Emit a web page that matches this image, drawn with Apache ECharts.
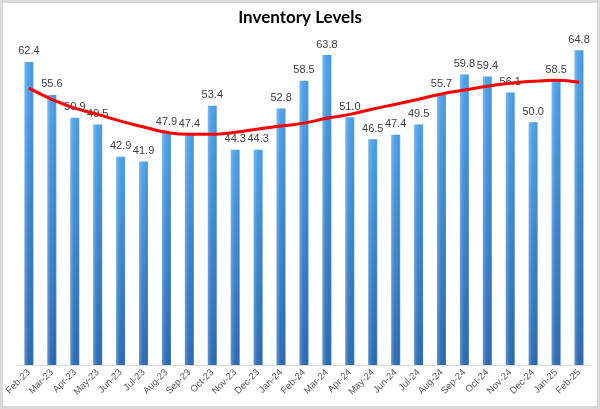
<!DOCTYPE html>
<html><head><meta charset="utf-8">
<script src="https://cdn.jsdelivr.net/npm/echarts@6/dist/echarts.min.js"></script>
<style>
html,body{margin:0;padding:0;background:#fff;}
#frame{position:absolute;left:0;top:0;width:594px;height:403px;border:3px solid #d9d9d9;background:#fff;}
#c{position:absolute;left:-3px;top:-3px;width:600px;height:409px;}
</style></head>
<body><div id="frame"><div id="c"></div></div>
<script>
const categories = ["Feb-23","Mar-23","Apr-23","May-23","Jun-23","Jul-23","Aug-23","Sep-23","Oct-23","Nov-23","Dec-23","Jan-24","Feb-24","Mar-24","Apr-24","May-24","Jun-24","Jul-24","Aug-24","Sep-24","Oct-24","Nov-24","Dec-24","Jan-25","Feb-25"];
const values = [62.4,55.6,50.9,49.5,42.9,41.9,47.9,47.4,53.4,44.3,44.3,52.8,58.5,63.8,51.0,46.5,47.4,49.5,55.7,59.8,59.4,56.1,50.0,58.5,64.8];
const trend = [57.0,54.7,52.9,51.6,50.2,49.0,47.9,47.5,47.5,47.9,48.6,49.2,49.8,50.8,51.6,52.7,53.7,54.7,55.8,56.6,57.4,58.0,58.4,58.6,58.2];

const chart = echarts.init(document.getElementById('c'), null, {renderer:'canvas'});
chart.setOption({
  animation:false,
  title:{text:'Inventory Levels',left:'center',top:4,textStyle:{fontFamily:'Lato',fontWeight:'bold',fontSize:17,color:'#000'}},
  grid:{left:17.5,right:9.5,top:25,bottom:44},
  xAxis:{type:'category',data:categories,
    axisLine:{lineStyle:{color:'#d9d9d9',width:1}},
    axisTick:{show:false},
    axisLabel:{rotate:45,fontSize:9.5,color:'#595959',fontFamily:'Liberation Sans',margin:6,interval:0}},
  yAxis:{type:'value',min:0,max:70,show:false,splitLine:{show:false}},
  series:[
    {type:'bar',data:values,barWidth:9,
      itemStyle:{color:new echarts.graphic.LinearGradient(0,0,0,1,[{offset:0,color:'#4ea2ec'},{offset:1,color:'#2c6cb4'}])},
      label:{show:true,position:'top',fontSize:11,color:'#404040',fontFamily:'Liberation Sans',formatter:p=>p.value.toFixed(1),distance:5}},
    {type:'bar',data:values,barWidth:9,barGap:'-100%',silent:true,
      itemStyle:{color:new echarts.graphic.LinearGradient(0,0,1,0,[{offset:0,color:'rgba(255,255,255,0.25)'},{offset:0.45,color:'rgba(255,255,255,0)'},{offset:0.8,color:'rgba(0,0,0,0.05)'},{offset:1,color:'rgba(255,255,255,0.2)'}])}},
    {type:'line',data:trend,smooth:true,symbol:'none',z:5,lineStyle:{color:'#ff0000',width:3}}
  ]
});
</script></body></html>
